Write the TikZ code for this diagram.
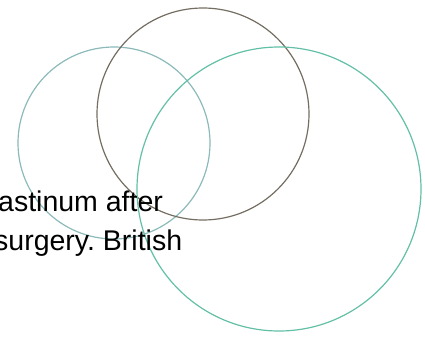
\documentclass[tikz,border=0pt]{standalone}
\usepackage{fontspec}
\setmainfont{Liberation Sans}
\definecolor{cleft}{HTML}{8CB9BA}
\definecolor{ctop}{HTML}{746E62}
\definecolor{cbig}{HTML}{63C0A6}
\begin{document}
\frenchspacing
\begin{tikzpicture}[x=1pt,y=-1pt,
  ring/.style={line width=1.2pt},
  txt/.style={font=\fontsize{28.5}{34}\selectfont, anchor=base west, inner sep=0pt}]
\useasboundingbox (0,0) rectangle (425,337);
\draw[ring, cleft] (114,143) circle[radius=96];
\draw[ring, ctop] (203,114) circle[radius=106];
\draw[ring, cbig] (279,189) circle[radius=142];
\node[txt] (l1) at (-2,211) {astinum after};
\node[txt] (l2) at (-6,250) {surgery. British};
\end{tikzpicture}
\end{document}
